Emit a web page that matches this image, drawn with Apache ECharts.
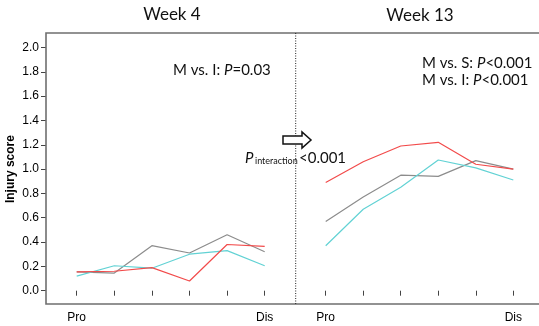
<!DOCTYPE html>
<html>
<head>
<meta charset="utf-8">
<script src="https://cdn.jsdelivr.net/npm/echarts@6/dist/echarts.min.js"></script>
<style>
  html, body { margin: 0; padding: 0; background: #fff; }
  #chart { width: 539px; height: 326px; }
</style>
</head>
<body>
<div id="chart"></div>
<script>
// categories (proximal -> distal), same for both panels
var positions = ['Pro', '', '', '', '', 'Dis'];
var yTicks = [0, 2, 0.2];  // min, max, step

// week 4 panel
var week4Red  = [0.155, 0.16, 0.19, 0.08, 0.38, 0.365];
var week4Grey = [0.155, 0.145, 0.37, 0.31, 0.46, 0.32];
var week4Cyan = [0.12, 0.205, 0.185, 0.30, 0.33, 0.205];

// week 13 panel
var week13Red  = [0.89, 1.06, 1.19, 1.22, 1.04, 1.00];
var week13Grey = [0.57, 0.77, 0.95, 0.94, 1.07, 1.00];
var week13Cyan = [0.37, 0.67, 0.85, 1.075, 1.01, 0.91];

var RED = '#f24b4b', GREY = '#8c8c8c', CYAN = '#62d2d4';
var labelFont = '"Liberation Sans", Arial, sans-serif';
var textFont = 'Lato, "Open Sans", sans-serif';

var myChart = echarts.init(document.getElementById('chart'), null, {renderer: 'canvas'});

function xAx(gi) {
  return {
    type: 'category',
    gridIndex: gi,
    data: positions,
    boundaryGap: false,
    offset: 13,
    axisLine: {show: false},
    axisTick: {show: true, alignWithLabel: true, length: 5, lineStyle: {color: '#444'}},
    axisLabel: {
      show: true, interval: 0, margin: 8, color: '#000',
      fontFamily: labelFont, fontSize: 12
    },
    splitLine: {show: false}
  };
}

function line(name, data, color, gi) {
  return {
    name: name,
    type: 'line',
    xAxisIndex: gi,
    yAxisIndex: gi,
    data: data,
    symbol: 'none',
    lineStyle: {color: color, width: 1.2},
    z: 3
  };
}

function statText(x, y, head, tail) {
  return {
    type: 'text', x: x, y: y,
    style: {
      text: '{n|' + head + '}{i|P}{n|' + tail + '}', verticalAlign: 'middle',
      rich: {
        n: {fontFamily: textFont, fontSize: 15, fill: '#111'},
        i: {fontFamily: textFont, fontSize: 15, fontStyle: 'italic', fill: '#111'}
      }
    }
  };
}

var option = {
  animation: false,
  backgroundColor: '#fff',
  grid: [
    {left: 76.7, right: 274.3, top: 47.5, bottom: 35.3},
    {left: 325.7, right: 25.7, top: 47.5, bottom: 35.3}
  ],
  xAxis: [xAx(0), xAx(1)],
  yAxis: [
    {
      type: 'value', gridIndex: 0,
      min: yTicks[0], max: yTicks[1], interval: yTicks[2],
      offset: 30.7,
      name: 'Injury score',
      nameLocation: 'middle',
      nameGap: 29,
      nameTextStyle: {fontFamily: labelFont, fontSize: 12, fontWeight: 'bold', color: '#000'},
      axisLine: {show: false},
      axisTick: {show: true, length: 5, lineStyle: {color: '#444'}},
      axisLabel: {
        margin: 7, color: '#000', fontFamily: labelFont, fontSize: 12,
        formatter: function (v) { return v.toFixed(1); }
      },
      splitLine: {show: false}
    },
    {
      type: 'value', gridIndex: 1,
      min: yTicks[0], max: yTicks[1], interval: yTicks[2],
      show: false, splitLine: {show: false}
    }
  ],
  series: [
    line('Grey', week4Grey, GREY, 0),
    line('Cyan', week4Cyan, CYAN, 0),
    line('Red', week4Red, RED, 0),
    line('Grey', week13Grey, GREY, 1),
    line('Cyan', week13Cyan, CYAN, 1),
    line('Red', week13Red, RED, 1)
  ],
  graphic: [
    // plot frame
    {type: 'rect', shape: {x: 46, y: 33, width: 510, height: 271},
     style: {fill: 'none', stroke: '#6f6f6f', lineWidth: 1.6}, silent: true, z: 1},
    // dotted separator
    {type: 'line', shape: {x1: 295.7, y1: 33, x2: 295.7, y2: 304},
     style: {stroke: '#222', lineWidth: 1, lineDash: [1, 1.5]}, silent: true, z: 2},
    // panel titles
    {type: 'text', x: 172, y: 15,
     style: {text: 'Week 4', font: '17px ' + textFont, fill: '#111', align: 'center', verticalAlign: 'middle'}},
    {type: 'text', x: 420, y: 16,
     style: {text: 'Week 13', font: '17px ' + textFont, fill: '#111', align: 'center', verticalAlign: 'middle'}},
    // annotations
    statText(173, 70, 'M vs. I: ', '=0.03'),
    statText(422, 63, 'M vs. S: ', '<0.001'),
    statText(422, 80, 'M vs. I: ', '<0.001'),
    // arrow
    {type: 'polygon', z: 4,
     shape: {points: [[283, 136], [302, 136], [302, 132], [311, 140], [302, 148], [302, 144], [283, 144]]},
     style: {fill: '#fff', stroke: '#111', lineWidth: 1.5}},
    // P interaction
    {type: 'text', x: 245, y: 158, z: 4,
     style: {text: 'P', font: 'italic 15px ' + textFont, fill: '#111', verticalAlign: 'middle'}},
    {type: 'text', x: 255, y: 161, z: 4,
     style: {text: 'interaction', font: '9px ' + textFont, fill: '#111', verticalAlign: 'middle'}},
    {type: 'text', x: 299, y: 158, z: 4,
     style: {text: '<0.001', font: '15px ' + textFont, fill: '#111', verticalAlign: 'middle'}}
  ]
};

myChart.setOption(option);
</script>
</body>
</html>
